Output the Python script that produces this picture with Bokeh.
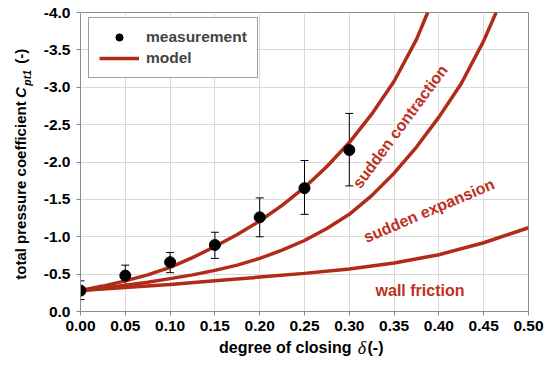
import math
from bokeh.plotting import figure
from bokeh.layouts import column, row
from bokeh.models import (ColumnDataSource, Range1d, FixedTicker, NumeralTickFormatter,
                          Whisker, TeeHead, Label, Legend, LegendItem)
from bokeh.embed import file_html
from bokeh.resources import INLINE

# ---- data ----
meas_delta = [0.00, 0.05, 0.10, 0.15, 0.20, 0.25, 0.30]
meas_cpt = [-0.28, -0.48, -0.66, -0.89, -1.26, -1.65, -2.16]
meas_upper = [-0.41, -0.62, -0.79, -1.06, -1.52, -2.02, -2.65]
meas_lower = [-0.16, -0.35, -0.52, -0.71, -1.00, -1.30, -1.68]

contr_delta = [0, 0.025, 0.05, 0.075, 0.1, 0.125, 0.15, 0.175, 0.2, 0.225, 0.25,
               0.275, 0.3, 0.325, 0.35, 0.375, 0.3875]
contr_cpt = [-0.28, -0.34, -0.41, -0.49, -0.59, -0.72, -0.87, -1.03, -1.21, -1.42,
             -1.66, -1.94, -2.26, -2.64, -3.08, -3.64, -4.00]

exp_delta = [0, 0.025, 0.05, 0.075, 0.1, 0.125, 0.15, 0.175, 0.2, 0.225, 0.25, 0.275,
             0.3, 0.325, 0.35, 0.375, 0.4, 0.425, 0.45, 0.4638]
exp_cpt = [-0.28, -0.31, -0.35, -0.39, -0.44, -0.49, -0.55, -0.62, -0.71, -0.82, -0.95,
           -1.11, -1.30, -1.55, -1.85, -2.20, -2.60, -3.05, -3.62, -4.00]

wall_delta = [0, 0.05, 0.1, 0.15, 0.2, 0.25, 0.3, 0.35, 0.4, 0.45, 0.5]
wall_cpt = [-0.28, -0.32, -0.36, -0.41, -0.46, -0.51, -0.57, -0.65, -0.76, -0.92, -1.12]

x_ticks = [0, 0.05, 0.1, 0.15, 0.2, 0.25, 0.3, 0.35, 0.4, 0.45, 0.5]
y_ticks = [0, -0.5, -1.0, -1.5, -2.0, -2.5, -3.0, -3.5, -4.0]

CURVE = "#B02C18"
TXT = "#C0301E"
FONT = "Liberation Sans"

W, H = 550, 378
LEFT_W = 40          # width of the strip holding the y-axis title
MAIN_H = 339         # height of the main plot (x-axis title strip below)

p = figure(width=W - LEFT_W, height=MAIN_H, output_backend="svg", toolbar_location=None,
           x_range=Range1d(0, 0.5), y_range=Range1d(0, -4),
           min_border_left=38, min_border_right=22, min_border_top=12,
           min_border_bottom=MAIN_H - 311)
p.background_fill_color = "white"
p.border_fill_color = "white"
p.outline_line_color = "#8c8c8c"
p.outline_line_width = 1

for ax in (p.xaxis[0], p.yaxis[0]):
    ax.axis_line_color = "#8c8c8c"
    ax.major_tick_line_color = "#8c8c8c"
    ax.minor_tick_line_color = None
    ax.major_tick_out = 4
    ax.major_tick_in = 0
    ax.major_label_text_font = FONT
    ax.major_label_text_font_style = "bold"
    ax.major_label_text_font_size = "15.5px"
    ax.major_label_text_color = "black"
p.xaxis.major_label_standoff = 5
p.yaxis.major_label_standoff = 6

p.xaxis.ticker = FixedTicker(ticks=x_ticks)
p.yaxis.ticker = FixedTicker(ticks=y_ticks)
p.xaxis.formatter = NumeralTickFormatter(format="0.00")
p.yaxis.formatter = NumeralTickFormatter(format="0.0")

p.xgrid.grid_line_color = "#d9d9d9"
p.ygrid.grid_line_color = "#d9d9d9"

# curves
r_c = p.line(contr_delta, contr_cpt, line_color=CURVE, line_width=3.5)
p.line(exp_delta, exp_cpt, line_color=CURVE, line_width=3.5)
p.line(wall_delta, wall_cpt, line_color=CURVE, line_width=3.5)

# measurements
src = ColumnDataSource(dict(x=meas_delta, y=meas_cpt, up=meas_upper, lo=meas_lower))
w = Whisker(source=src, base="x", upper="up", lower="lo", line_color="black", line_width=1,
            upper_head=TeeHead(size=8, line_color="black", line_width=1),
            lower_head=TeeHead(size=8, line_color="black", line_width=1))
p.add_layout(w)
r_m = p.scatter("x", "y", source=src, size=11, fill_color="black", line_color="black")

legend = Legend(items=[LegendItem(label="measurement", renderers=[r_m]),
                       LegendItem(label="model", renderers=[r_c])],
                location=(8, 233), label_text_font=FONT, label_text_font_style="bold",
                label_text_font_size="15.5px", glyph_width=40, glyph_height=18,
                label_height=18, label_standoff=7, padding=10, spacing=3,
                border_line_color="#404040", border_line_width=1,
                background_fill_alpha=1)
p.add_layout(legend)

FRAME_L, FRAME_B = 78.5 - LEFT_W, 311.0


def lab(fig, text, x, y, angle=0.0, size="16px", style="bold", color="black", align="center",
        font=FONT, baseline="middle", units="data"):
    fig.add_layout(Label(x=x, y=y, x_units=units, y_units=units, text=text,
                         angle=angle, text_font=font, text_font_size=size,
                         text_font_style=style, text_color=color,
                         text_align=align, text_baseline=baseline))


def plab(text, px, py, **kw):
    # position given in page pixels, converted to screen offset from the main frame
    lab(p, text, px - LEFT_W - FRAME_L, FRAME_B - py, units="screen", **kw)


# curve labels
plab("sudden contraction", 398, 126, angle=math.radians(53.6), color=TXT)
plab("sudden expansion", 427, 210, angle=math.radians(23), color=TXT)
plab("wall friction", 418, 290, color=TXT)


def blank(width, height, xr, yr):
    f = figure(width=width, height=height, output_backend="svg", toolbar_location=None,
               x_range=xr, y_range=yr, x_axis_type=None, y_axis_type=None, min_border=0)
    f.outline_line_color = None
    f.xgrid.visible = False
    f.ygrid.visible = False
    f.background_fill_color = "white"
    f.border_fill_color = "white"
    return f


# left strip: y axis title (coordinates = page pixels)
fy = blank(LEFT_W, MAIN_H, Range1d(0, LEFT_W), Range1d(MAIN_H, 0))
lab(fy, "total pressure coefficient", 19.5, 303, angle=math.pi / 2, align="left", size="15px")
lab(fy, "C", 19.5, 97, angle=math.pi / 2, align="left", style="bold italic", size="15px")
lab(fy, "pt1", 26.5, 83, angle=math.pi / 2, align="left", style="bold italic", size="10.5px")
lab(fy, "(-)", 19.5, 58, angle=math.pi / 2, align="left", size="15px")

# bottom strip: x axis title (coordinates = page pixels)
fx = blank(W, H - MAIN_H, Range1d(0, W), Range1d(H, MAIN_H))
lab(fx, "degree of closing", 351, 347, align="right")
lab(fx, "\u03b4", 361.5, 347, style="italic", font="Liberation Serif", size="18px")
lab(fx, "(-)", 367, 347, align="left")

layout = column(row(fy, p, spacing=0), fx, spacing=0)

open("out.html", "w").write(file_html(layout, INLINE))
